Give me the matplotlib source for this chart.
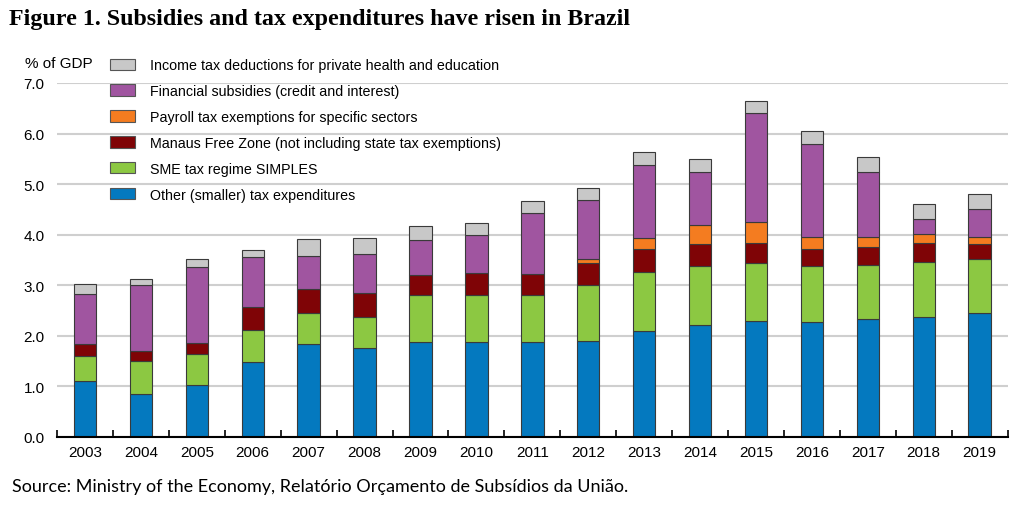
import matplotlib
matplotlib.use("Agg")
import matplotlib.pyplot as plt
from matplotlib.patches import Patch
import numpy as np

# データ
years = ["2003", "2004", "2005", "2006", "2007", "2008", "2009", "2010", "2011",
         "2012", "2013", "2014", "2015", "2016", "2017", "2018", "2019"]
other = [1.10, 0.86, 1.03, 1.49, 1.83, 1.75, 1.88, 1.87, 1.87, 1.90, 2.10, 2.22, 2.29, 2.27, 2.33, 2.37, 2.46]
sme = [0.51, 0.64, 0.61, 0.62, 0.63, 0.62, 0.93, 0.93, 0.93, 1.11, 1.16, 1.16, 1.15, 1.11, 1.08, 1.09, 1.05]
manaus = [0.22, 0.20, 0.22, 0.47, 0.47, 0.48, 0.39, 0.44, 0.43, 0.43, 0.46, 0.43, 0.39, 0.34, 0.35, 0.37, 0.31]
payroll = [0, 0, 0, 0, 0, 0, 0, 0, 0, 0.08, 0.22, 0.38, 0.42, 0.24, 0.20, 0.18, 0.13]
financial = [1.00, 1.30, 1.51, 0.97, 0.65, 0.76, 0.69, 0.75, 1.19, 1.16, 1.44, 1.05, 2.15, 1.83, 1.28, 0.30, 0.55]
income_tax = [0.20, 0.13, 0.14, 0.14, 0.33, 0.33, 0.28, 0.25, 0.25, 0.25, 0.25, 0.26, 0.25, 0.27, 0.29, 0.29, 0.30]

series_labels = ["Other (smaller) tax expenditures",
                 "SME tax regime SIMPLES",
                 "Manaus Free Zone (not including state tax exemptions)",
                 "Payroll tax exemptions for specific sectors",
                 "Financial subsidies (credit and interest)",
                 "Income tax deductions for private health and education"]
series_colors = ["#0479BF", "#8CC842", "#7F0406", "#F47C20", "#A055A0", "#C8C8C8"]

plt.rcParams["font.family"] = ["Liberation Sans", "DejaVu Sans"]

fig = plt.figure(figsize=(10.24, 5.06), dpi=100)
ax = fig.add_axes([0.0557, 0.1344, 0.9283, 0.6996])

x = np.arange(len(years))
bottom = np.zeros(len(years))
for vals, col in zip([other, sme, manaus, payroll, financial, income_tax], series_colors):
    vals = np.array(vals)
    ax.bar(x, vals, width=0.4, bottom=bottom, color=col, edgecolor="#3a3a3a",
           linewidth=0.8, zorder=3)
    bottom += vals

ax.set_xlim(-0.5, len(years) - 0.5)
ax.set_ylim(0, 7.0)
ax.set_yticks(np.arange(0, 7.01, 1.0))
ax.set_yticklabels(["%.1f" % v for v in np.arange(0, 7.01, 1.0)], fontsize=11)
ax.yaxis.grid(True, color="#cfcfcf", linewidth=1.5, zorder=0)
ax.tick_params(axis="y", length=0, pad=9)

ax.set_xticks(x)
ax.set_xticklabels(years, fontsize=11)
ax.tick_params(axis="x", which="major", length=0, pad=6)
ax.set_xticks(np.arange(-0.5, len(years), 1.0), minor=True)
ax.tick_params(axis="x", which="minor", direction="in", length=5, width=1.2, color="black")

for s in ["top", "right", "left"]:
    ax.spines[s].set_visible(False)
ax.spines["bottom"].set_linewidth(1.5)
ax.spines["bottom"].set_zorder(4)

fig.text(0.024, 0.873, "% of GDP", fontsize=11, va="center")

handles = [Patch(facecolor=c, edgecolor="#555555", linewidth=0.8) for c in series_colors]
leg = fig.legend(handles[::-1], series_labels[::-1], loc="upper left",
                 bbox_to_anchor=(0.1074, 0.883), frameon=False, fontsize=10.3,
                 handlelength=1.75, handleheight=0.85, handletextpad=1.05,
                 labelspacing=0.83, borderaxespad=0, borderpad=0)

fig.text(0.009, 0.962, "Figure 1. Subsidies and tax expenditures have risen in Brazil",
         fontsize=17.3, fontweight="bold", family="Liberation Serif", va="center")
fig.text(0.012, 0.037, "Source: Ministry of the Economy, Relatório Orçamento de Subsídios da União.",
         fontsize=13, family=["Lato", "DejaVu Sans"], va="center")

fig.savefig("out.png", dpi=100)
